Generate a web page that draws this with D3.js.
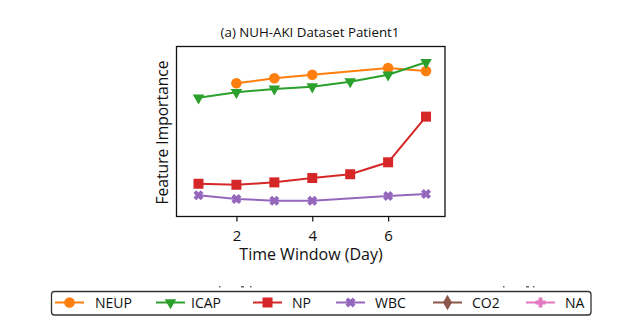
<!DOCTYPE html>
<html><head><meta charset="utf-8">
<script src="https://cdn.jsdelivr.net/npm/d3@7"></script>
<style>body{margin:0;background:#fff}svg{display:block}text{font-family:"Open Sans",sans-serif;fill:#111}</style>
</head><body><svg id="c" width="630" height="334"></svg>
<script>
const days = [1,2,3,4,5,6,7];
const neup = [null,0.779,0.808,0.828,null,0.867,0.850];
const icap = [0.695,0.727,0.746,0.759,0.788,0.828,0.900];
const np   = [0.198,0.192,0.206,0.231,0.253,0.322,0.586];
const wbc  = [0.131,0.110,0.100,0.100,null,0.127,0.139];
const xTicks = [2,4,6];
const seriesNames = ["NEUP","ICAP","NP","WBC","CO2","NA"];
const seriesColors = ["#ff7f0e","#2ca02c","#d62728","#9467bd","#8c564b","#e377c2"];
const title = "(a) NUH-AKI Dataset Patient1";
const xLabel = "Time Window (Day)";
const yLabel = "Feature Importance";

const svg = d3.select("#c");
const box = {l:176.5, r:445, t:46.5, b:216.5};
const x = d3.scaleLinear().domain([0.42,7.5]).range([box.l, box.r]);
const y = d3.scaleLinear().domain([0,1]).range([218,45]);

function xShape(s){ const a=s, b=s*0.55;
  const pts=[[-a,-a+b],[-a+b,-a],[0,-b],[a-b,-a],[a,-a+b],[b,0],[a,a-b],[a-b,a],[0,b],[-a+b,a],[-a,a-b],[-b,0]];
  return "M"+pts.map(p=>p.join(",")).join("L")+"Z"; }
function plusShape(s){ const a=s,b=s*0.38; const pts=[[-b,-a],[b,-a],[b,-b],[a,-b],[a,b],[b,b],[b,a],[-b,a],[-b,b],[-a,b],[-a,-b],[-b,-b]];
  return "M"+pts.map(p=>p.join(",")).join("L")+"Z"; }
const markers = [
  ()=>d3.symbol().type(d3.symbolCircle).size(88)(),
  ()=>d3.symbol().type(d3.symbolTriangle).size(58)(),
  ()=>d3.symbol().type(d3.symbolSquare).size(100)(),
  ()=>xShape(5),
  ()=>d3.symbol().type(d3.symbolDiamond).size(70)(),
  ()=>plusShape(5)
];
const rot = [0,180,0,0,0,0];

// title
svg.append("text").attr("x",310).attr("y",36.5).attr("text-anchor","middle").attr("font-size",13.3).text(title);

// x axis ticks
const gx = svg.append("g").attr("transform",`translate(0,${box.b})`)
  .call(d3.axisBottom(x).tickValues(xTicks).tickSize(5).tickPadding(8.5).tickFormat(d3.format("d")));
gx.select(".domain").remove();
gx.selectAll("line").attr("stroke","#111").attr("stroke-width",1.2);
gx.selectAll("text").attr("font-size",15).attr("font-family","Open Sans").attr("fill","#111");

svg.append("text").attr("x",311).attr("y",260).attr("text-anchor","middle").attr("font-size",16).text(xLabel);
svg.append("text").attr("transform","translate(167.5,132.5) rotate(-90)").attr("text-anchor","middle").attr("font-size",15.6).text(yLabel);

// series
const data = [neup,icap,np,wbc];
data.forEach((vals,i)=>{
  const pts = days.map((d,j)=>({d, v:vals[j]})).filter(p=>p.v!=null);
  svg.append("path").datum(pts).attr("fill","none").attr("stroke",seriesColors[i]).attr("stroke-width",2)
    .attr("d", d3.line().x(p=>x(p.d)).y(p=>y(p.v)));
  svg.selectAll(null).data(pts).join("path")
    .attr("transform",p=>`translate(${x(p.d)},${y(p.v)}) rotate(${rot[i]})`)
    .attr("d",markers[i]()).attr("fill",seriesColors[i]);
});

// axes frame
svg.append("rect").attr("x",box.l).attr("y",box.t).attr("width",box.r-box.l).attr("height",box.b-box.t)
  .attr("fill","none").attr("stroke","#111").attr("stroke-width",1.3);

// cropped fragments of text above the legend
[[219,286],[241,286],[250,286],[503,286],[526,286],[533,286]].forEach(([fx,fy],k)=>{
  svg.append("rect").attr("x",fx).attr("y",fy).attr("width",k%3===1?3:1.5).attr("height",1.5).attr("fill","#666");
});

// legend
const lg = svg.append("g");
lg.append("rect").attr("x",51.5).attr("y",291.5).attr("width",539.5).attr("height",23.5).attr("rx",3)
  .attr("fill","#fff").attr("stroke","#333").attr("stroke-width",1.3);
const lineStarts = [55,156,253,336,433,526];
const textStarts = [95,191,292,375,472,565];
seriesNames.forEach((n,i)=>{
  const cy = 302.5;
  lg.append("line").attr("x1",lineStarts[i]).attr("x2",lineStarts[i]+29).attr("y1",cy).attr("y2",cy)
    .attr("stroke",seriesColors[i]).attr("stroke-width",2);
  lg.append("path").attr("transform",`translate(${lineStarts[i]+14.5},${cy}) rotate(${rot[i]})`)
    .attr("d",markers[i]()).attr("fill",seriesColors[i]);
  lg.append("text").attr("x",textStarts[i]).attr("y",cy+5).attr("font-size",14).text(n);
});
</script></body></html>
